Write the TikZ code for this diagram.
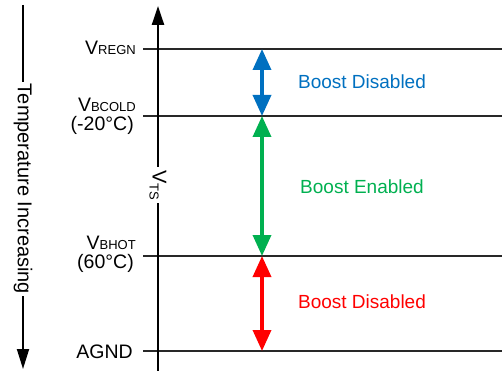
\documentclass[tikz,border=0pt]{standalone}
\usepackage{fontspec}
\setmainfont{Liberation Sans}
\usetikzlibrary{arrows.meta}
\definecolor{tiblue}{RGB}{0,112,192}
\definecolor{tigreen}{RGB}{0,176,80}
\definecolor{tired}{RGB}{255,0,0}
\definecolor{lvlgray}{RGB}{40,40,40}
\newcommand\mysubtxt[1]{{\fontsize{13}{13}\selectfont #1}}
\tikzset{
  lbl/.style={inner sep=0pt, font=\fontsize{19.5}{19.5}\selectfont, anchor=base east},
  level/.style={line width=1.8pt, draw=lvlgray},
  barrow/.style={line width=3.5pt, {Triangle[width=18pt,length=21pt]}-{Triangle[width=18pt,length=21pt]}},
  btext/.style={inner sep=0pt, font=\fontsize{19}{19}\selectfont},
}
\begin{document}
\begin{tikzpicture}[x=1pt,y=-1pt]
\useasboundingbox (0,0) rectangle (502,371);
% level lines
\coordinate (regnL) at (143,49);  \coordinate (regnR) at (502,49);
\coordinate (coldL) at (143,116); \coordinate (coldR) at (502,116);
\coordinate (hotL)  at (143,256); \coordinate (hotR)  at (502,256);
\coordinate (gndL)  at (143,351); \coordinate (gndR)  at (502,351);
\draw[level] (regnL) -- (regnR);
\draw[level] (coldL) -- (coldR);
\draw[level] (hotL) -- (hotR);
\draw[level] (gndL) -- (gndR);
% V_TS axis
\coordinate (axB) at (158,371);
\coordinate (axT) at (158,6);
\draw[line width=2.4pt, -{Triangle[width=12pt,length=19pt]}] (axB) -- (axT);
\node[rotate=-90, fill=white, inner sep=3pt, font=\fontsize{20}{20}\selectfont] (vts) at (158,185) {V\raisebox{-3pt}{\fontsize{13}{13}\selectfont TS}};
% temperature arrow
\coordinate (tTop) at (23,5);
\coordinate (tBot) at (23,369);
\draw[line width=1.8pt, -{Triangle[width=12pt,length=20pt]}] (tTop) -- (tBot);
\node[rotate=-90, fill=white, inner sep=2pt, font=\fontsize{20}{20}\selectfont] (temp) at (23,189) {Temperature Increasing};
% labels
\node[lbl] (vregn) at (136,55) {V\mysubtxt{REGN}};
\node[lbl] (vbcold) at (136,112) {V\mysubtxt{BCOLD}};
\node[lbl] (tcold) at (134,131) {(-20°C)};
\node[lbl] (vbhot) at (136,249) {V\mysubtxt{BHOT}};
\node[lbl] (thot) at (134,268) {(60°C)};
\node[lbl] (agnd) at (133,358) {AGND};
% coloured arrows
\coordinate (b1) at (262,49);
\coordinate (b2) at (262,116);
\coordinate (g1) at (262,116);
\coordinate (g2) at (262,256);
\coordinate (r1) at (262,256);
\coordinate (r2) at (262,351);
\draw[barrow, tiblue] (b1) -- (b2);
\draw[barrow, tigreen] (g1) -- (g2);
\draw[barrow, tired] (r1) -- (r2);
% texts
\node[btext, text=tiblue] (tb) at (362,82) {Boost Disabled};
\node[btext, text=tigreen] (tg) at (362,187) {Boost Enabled};
\node[btext, text=tired] (tr) at (362,302) {Boost Disabled};
\end{tikzpicture}
\end{document}
